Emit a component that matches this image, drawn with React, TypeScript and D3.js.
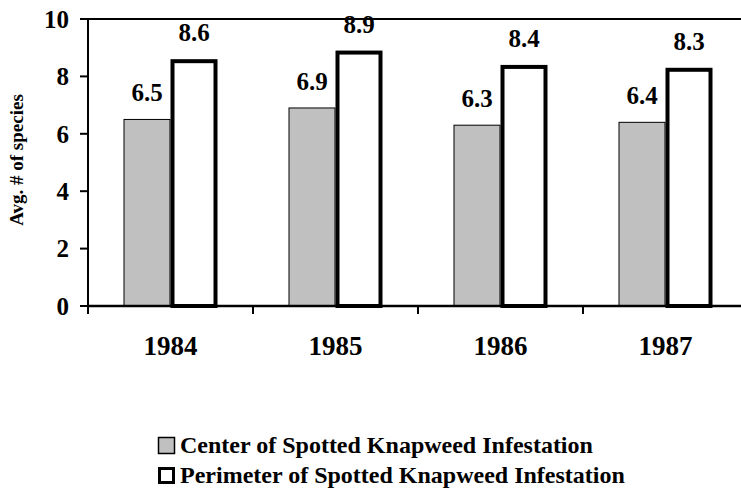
import React from "react";
import * as d3 from "d3";

const years: string[] = ["1984", "1985", "1986", "1987"];
const centerValues: number[] = [6.5, 6.9, 6.3, 6.4];
const perimeterValues: number[] = [8.6, 8.9, 8.4, 8.3];
const yTicks: number[] = [0, 2, 4, 6, 8, 10];
const seriesNames: string[] = [
  "Center of Spotted Knapweed Infestation",
  "Perimeter of Spotted Knapweed Infestation",
];
const yTitle = "Avg. # of species";

const W = 741;
const H = 489;
const FONT = "Liberation Serif";

export default function App() {
  const left = 88;
  const top = 19;
  const bottom = 306;
  const x0 = d3.scaleBand<string>().domain(years).range([left, left + 660]).padding(0);
  const y = d3.scaleLinear().domain([0, 10]).range([bottom, top]);
  const x1 = d3.scaleBand<string>().domain(["c", "p"]).range([-47, 47]).padding(0);

  const boundaries = years.map((yr) => x0(yr) as number);
  const txt: React.CSSProperties = { fontFamily: FONT };

  return (
    <svg
      width={W}
      height={H}
      style={{ position: "absolute", left: 0, top: 0, background: "#fff" }}
    >
      <line x1={left} x2={W} y1={y(10)} y2={y(10)} stroke="#000" strokeWidth={2} />

      {years.map((yr, i) => {
        const c = (x0(yr) as number) + x0.bandwidth() / 2;
        const xc = c + (x1("c") as number);
        const xp = c + (x1("p") as number);
        const bw = x1.bandwidth();
        return (
          <g key={yr}>
            <rect
              x={xc + 0.5}
              y={y(centerValues[i])}
              width={bw - 1}
              height={y(0) - y(centerValues[i])}
              fill="#c0c0c0"
              stroke="#000"
              strokeWidth={1}
            />
            <rect
              x={xp + 2}
              y={y(perimeterValues[i]) + 2}
              width={bw - 4}
              height={y(0) - y(perimeterValues[i]) - 2}
              fill="#fff"
              stroke="#000"
              strokeWidth={4}
            />
          </g>
        );
      })}

      <line x1={left} x2={left} y1={top} y2={bottom + 7} stroke="#000" strokeWidth={2} />
      <line x1={left} x2={W} y1={bottom} y2={bottom} stroke="#000" strokeWidth={2.5} />
      {yTicks.map((t) => (
        <g key={t}>
          <line x1={left - 8} x2={left} y1={y(t)} y2={y(t)} stroke="#000" strokeWidth={2} />
          <text x={left - 19} y={y(t)} dy="0.35em" textAnchor="end" fontSize={25} fontWeight={700} style={txt}>
            {t}
          </text>
        </g>
      ))}
      {boundaries.map((b, i) => (
        <line key={i} x1={b} x2={b} y1={bottom} y2={bottom + 8} stroke="#000" strokeWidth={2} />
      ))}
      {years.map((yr) => (
        <text
          key={yr}
          x={(x0(yr) as number) + x0.bandwidth() / 2}
          y={355}
          textAnchor="middle"
          fontSize={27}
          fontWeight={700}
          style={txt}
        >
          {yr}
        </text>
      ))}

      {years.map((yr, i) => {
        const c = (x0(yr) as number) + x0.bandwidth() / 2;
        const bw = x1.bandwidth();
        return (
          <g key={"l" + yr}>
            <text
              x={c + (x1("c") as number) + bw / 2}
              y={y(centerValues[i]) - 18}
              textAnchor="middle"
              fontSize={25}
              fontWeight={700}
              style={txt}
            >
              {centerValues[i].toFixed(1)}
            </text>
            <text
              x={c + (x1("p") as number) + bw / 2}
              y={y(perimeterValues[i]) - 18}
              textAnchor="middle"
              fontSize={25}
              fontWeight={700}
              style={txt}
            >
              {perimeterValues[i].toFixed(1)}
            </text>
          </g>
        );
      })}

      <text
        transform={`translate(23, 160) rotate(-90)`}
        textAnchor="middle"
        fontSize={19}
        fontWeight={700}
        style={txt}
      >
        {yTitle}
      </text>

      <rect x={158.5} y={437.5} width={16} height={16} fill="#c0c0c0" stroke="#000" strokeWidth={1.5} />
      <text x={180} y={453} fontSize={24} fontWeight={700} style={txt}>
        {seriesNames[0]}
      </text>
      <rect x={159.5} y={468.5} width={14} height={14} fill="#fff" stroke="#000" strokeWidth={3} />
      <text x={180} y={483} fontSize={24} fontWeight={700} style={txt}>
        {seriesNames[1]}
      </text>
    </svg>
  );
}
